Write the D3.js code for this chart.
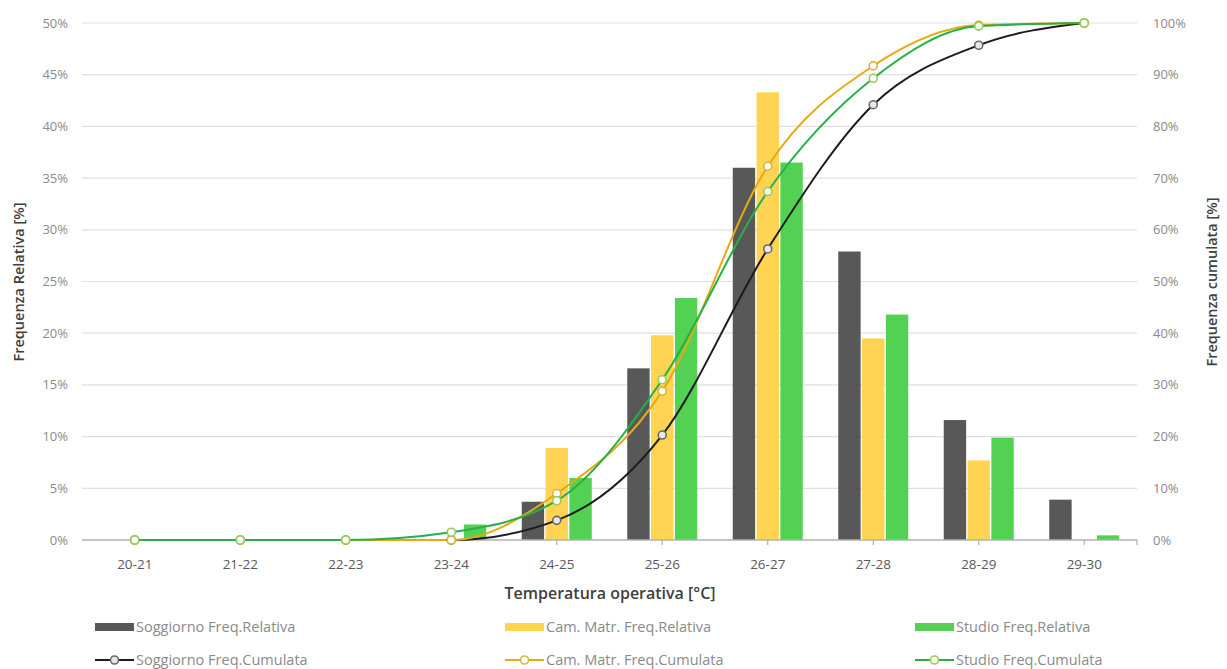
<!DOCTYPE html>
<html><head><meta charset="utf-8">
<script src="https://cdn.jsdelivr.net/npm/d3@7"></script>
<style>
html,body{margin:0;padding:0;background:#fff;}
svg text{font-family:"Open Sans","Noto Sans",sans-serif;}
</style></head>
<body><svg id="c" width="1227" height="669"></svg>
<script>
const categories = ["20-21","21-22","22-23","23-24","24-25","25-26","26-27","27-28","28-29","29-30"];
const soggiornoRel = [0,0,0,0.1,3.7,16.6,36.0,27.9,11.6,3.9];
const camMatrRel   = [0,0,0,0,8.9,19.8,43.3,19.5,7.7,0];
const studioRel    = [0,0,0,1.5,6.0,23.4,36.5,21.8,9.9,0.45];
const soggiornoCum = [0,0,0,0,3.8,20.3,56.3,84.2,95.7,100];
const camMatrCum   = [0,0,0,0,9.0,28.8,72.3,91.7,99.6,100];
const studioCum    = [0,0,0,1.5,7.6,31.0,67.4,89.3,99.4,100];
const leftTicks = [0,5,10,15,20,25,30,35,40,45,50];
const rightTicks = [0,10,20,30,40,50,60,70,80,90,100];

const svg = d3.select("#c");
const L = 82, R = 1137, T = 23, B = 540;

const x = d3.scaleBand().domain(categories).range([L, R]).padding(0);
const yL = d3.scaleLinear().domain([0, 50]).range([B, T]);
const yR = d3.scaleLinear().domain([0, 100]).range([B, T]);
const relSeries = [
  {name:"Soggiorno Freq.Relativa", vals:soggiornoRel, color:"#585858"},
  {name:"Cam. Matr. Freq.Relativa", vals:camMatrRel, color:"#FFD452"},
  {name:"Studio Freq.Relativa", vals:studioRel, color:"#52D152"}
];
const cumSeries = [
  {name:"Soggiorno Freq.Cumulata", vals:soggiornoCum, color:"#1c1c1c", mk:"#6a6a6a", mf:"#e8e8e8"},
  {name:"Cam. Matr. Freq.Cumulata", vals:camMatrCum, color:"#E6AA12", mk:"#D9B53A", mf:"#ffffff"},
  {name:"Studio Freq.Cumulata", vals:studioCum, color:"#25B04A", mk:"#95CC55", mf:"#ffffff"}
];
const groupW = 70;
const x1 = d3.scaleBand().domain(relSeries.map(s=>s.name)).range([-groupW/2, groupW/2]).paddingInner(0.06);

// gridlines
svg.append("g").selectAll("line").data(leftTicks.slice(1)).join("line")
  .attr("x1", L).attr("x2", R).attr("y1", d=>yL(d)).attr("y2", d=>yL(d))
  .attr("stroke", "#e0e0e0").attr("stroke-width", 1.2);

// axis tick labels
const tickFont = 13;
svg.append("g").selectAll("text").data(leftTicks).join("text")
  .attr("x", 68).attr("y", d=>yL(d)).attr("dy","0.35em").attr("text-anchor","end")
  .attr("font-size", tickFont).attr("fill","#8a8a8a").text(d=>d+"%");
svg.append("g").selectAll("text").data(rightTicks).join("text")
  .attr("x", 1153).attr("y", d=>yR(d)).attr("dy","0.35em").attr("text-anchor","start")
  .attr("font-size", tickFont).attr("fill","#8a8a8a").text(d=>d+"%");

// bars
const gBars = svg.append("g");
relSeries.forEach(s=>{
  gBars.append("g").selectAll("rect").data(categories.map((c,i)=>({c, v:s.vals[i]}))).join("rect")
    .attr("x", d=> x(d.c) + x.bandwidth()/2 + x1(s.name))
    .attr("width", x1.bandwidth())
    .attr("y", d=> yL(d.v))
    .attr("height", d=> B - yL(d.v))
    .attr("fill", s.color);
});

// x axis line and ticks
svg.append("line").attr("x1", L).attr("x2", R).attr("y1", B).attr("y2", B).attr("stroke","#b0b0b0").attr("stroke-width",1.3);
const tickXs = categories.map(c=>x(c)+x.bandwidth()/2).concat([R]);
svg.append("g").selectAll("line").data(tickXs).join("line")
  .attr("x1", d=>d).attr("x2", d=>d).attr("y1", B).attr("y2", B+5).attr("stroke","#b0b0b0").attr("stroke-width",1.2);
svg.append("g").selectAll("text").data(categories).join("text")
  .attr("x", d=>x(d)+x.bandwidth()/2).attr("y", 564).attr("dy","0.35em").attr("text-anchor","middle")
  .attr("font-size", 13.5).attr("fill","#595959").text(d=>d);

// cumulative lines
const line = d3.line().x((d,i)=>x(categories[i])+x.bandwidth()/2).y(d=>yR(d)).curve(d3.curveMonotoneX);
cumSeries.forEach(s=>{
  svg.append("path").datum(s.vals).attr("d", line).attr("fill","none").attr("stroke", s.color).attr("stroke-width",2);
});
cumSeries.forEach(s=>{
  svg.append("g").selectAll("circle").data(s.vals).join("circle")
    .attr("cx",(d,i)=>x(categories[i])+x.bandwidth()/2).attr("cy", d=>yR(d)).attr("r",4)
    .attr("fill", s.mf).attr("stroke", s.mk).attr("stroke-width",1.6);
});

// axis titles
svg.append("text").attr("x", 610).attr("y", 593).attr("dy","0.35em").attr("text-anchor","middle")
  .attr("font-size", 16).attr("font-weight", 600).attr("fill","#404040").text("Temperatura operativa [°C]");
svg.append("text").attr("transform","translate(19,282) rotate(-90)").attr("dy","0.35em").attr("text-anchor","middle")
  .attr("font-size", 14.5).attr("font-weight", 600).attr("fill","#404040").text("Frequenza Relativa [%]");
svg.append("text").attr("transform","translate(1212,282) rotate(-90)").attr("dy","0.35em").attr("text-anchor","middle")
  .attr("font-size", 14.5).attr("font-weight", 600).attr("fill","#404040").text("Frequenza cumulata [%]");

// legend
const legX = [95, 505, 915];
const legend = svg.append("g");
relSeries.forEach((s,i)=>{
  legend.append("rect").attr("x", legX[i]).attr("y", 623).attr("width", 39).attr("height", 8).attr("fill", s.color);
  legend.append("text").attr("x", legX[i]+41).attr("y", 627).attr("dy","0.35em").attr("font-size", 14.5).attr("fill","#8a8a8a").text(s.name);
});
cumSeries.forEach((s,i)=>{
  legend.append("line").attr("x1", legX[i]).attr("x2", legX[i]+39).attr("y1", 660).attr("y2", 660).attr("stroke", s.color).attr("stroke-width",2);
  legend.append("circle").attr("cx", legX[i]+19.5).attr("cy", 660).attr("r",4).attr("fill", s.mf).attr("stroke", s.mk).attr("stroke-width",1.6);
  legend.append("text").attr("x", legX[i]+41).attr("y", 660).attr("dy","0.35em").attr("font-size", 14.5).attr("fill","#8a8a8a").text(s.name);
});
</script></body></html>
